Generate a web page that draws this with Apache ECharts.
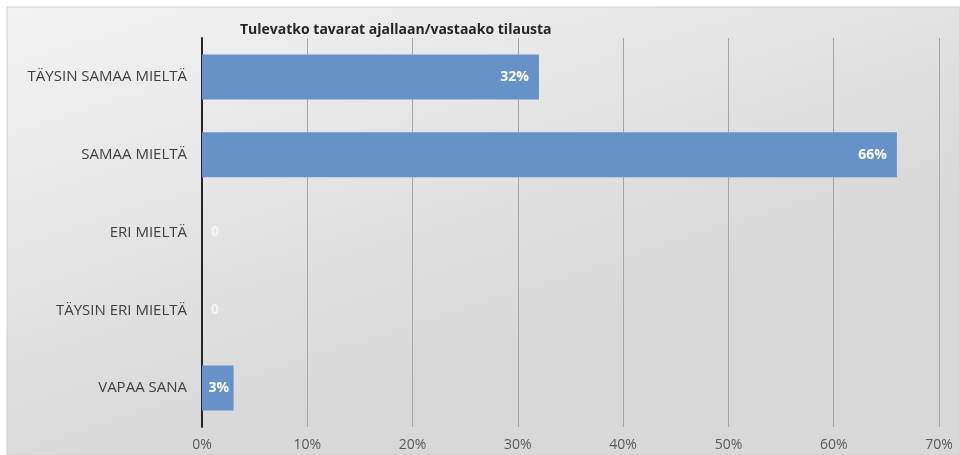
<!DOCTYPE html>
<html>
<head>
<meta charset="utf-8">
<script src="https://cdn.jsdelivr.net/npm/echarts@6/dist/echarts.min.js"></script>
<style>
html, body { margin: 0; padding: 0; background: #fff; }
#main { width: 960px; height: 455px; }
</style>
</head>
<body>
<div id="main"></div>
<script>
var categories = ['TÄYSIN SAMAA MIELTÄ', 'SAMAA MIELTÄ', 'ERI MIELTÄ', 'TÄYSIN ERI MIELTÄ', 'VAPAA SANA'];
var values = [32, 66, 0, 0, 3];
var xTicks = [0, 10, 20, 30, 40, 50, 60, 70];

var barColor = '#6691c9';

window.onload = function () {
    var myChart = echarts.init(document.getElementById('main'));

    // nollarivit: "0" akselin oikealla puolella, pienet palkit: label keskelle
    var seriesData = values.map(function (v) {
        if (v === 0) {
            return {value: v, label: {position: 'right', distance: 9, color: '#f4f4f4'}};
        }
        if (v < 5) {
            return {value: v, label: {position: 'inside', offset: [1, 0]}};
        }
        return v;
    });

    var option = {
        animation: false,
        graphic: [{
            type: 'rect',
            z: -10,
            shape: {x: 7, y: 7, width: 953, height: 448},
            style: {
                fill: new echarts.graphic.LinearGradient(0, 0, 0.15, 1, [
                    {offset: 0, color: '#f3f3f3'},
                    {offset: 1, color: '#d8d8d8'}
                ]),
                stroke: '#d0d0d0',
                lineWidth: 1
            }
        }],
        title: {
            text: 'Tulevatko tavarat ajallaan/vastaako tilausta',
            left: 235,
            top: 18,
            textStyle: {
                fontFamily: 'Open Sans',
                fontSize: 14,
                fontWeight: 'bold',
                color: '#262626'
            }
        },
        grid: {
            left: 202,
            right: 21,
            top: 38,
            bottom: 28,
            containLabel: false
        },
        xAxis: {
            type: 'value',
            min: xTicks[0],
            max: xTicks[xTicks.length - 1],
            interval: 10,
            axisLine: {show: false},
            axisTick: {show: false},
            splitLine: {
                show: true,
                lineStyle: {color: '#a6a6a6', width: 1}
            },
            axisLabel: {
                formatter: '{value}%',
                margin: 11,
                fontFamily: 'Open Sans',
                fontSize: 14,
                color: '#595959'
            }
        },
        yAxis: {
            type: 'category',
            inverse: true,
            data: categories,
            axisLine: {show: true, lineStyle: {color: '#262626', width: 2}},
            axisTick: {show: false},
            axisLabel: {
                margin: 15,
                fontFamily: 'Open Sans',
                fontSize: 15,
                color: '#404040'
            }
        },
        series: [{
            type: 'bar',
            data: seriesData,
            barWidth: 45,
            itemStyle: {color: barColor},
            label: {
                show: true,
                position: 'insideRight',
                distance: 10,
                formatter: function (p) {
                    return p.value === 0 ? '0' : p.value + '%';
                },
                fontFamily: 'Open Sans',
                fontSize: 14,
                fontWeight: 'bold',
                color: '#ffffff'
            }
        }]
    };
    myChart.setOption(option, true);
};
</script>
</body>
</html>
